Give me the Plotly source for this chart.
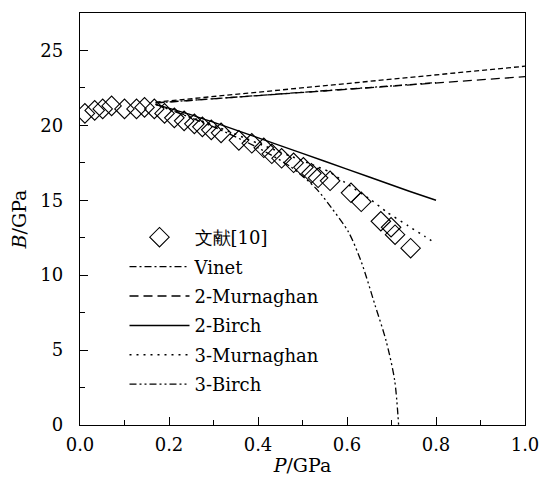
import plotly.graph_objects as go

# Experimental data (文献[10])
exp_p = [0.011, 0.033, 0.051, 0.071, 0.100, 0.127, 0.145, 0.167, 0.190, 0.212,
         0.234, 0.257, 0.275, 0.295, 0.317, 0.357, 0.386, 0.413, 0.431, 0.453,
         0.480, 0.502, 0.520, 0.535, 0.562, 0.609, 0.632, 0.676, 0.699, 0.708, 0.743]
exp_b = [20.8, 21.0, 21.1, 21.3, 21.1, 21.1, 21.2, 21.1, 20.8, 20.5,
         20.3, 20.1, 19.9, 19.7, 19.5, 19.0, 18.8, 18.5, 18.1, 17.8,
         17.5, 17.2, 16.8, 16.5, 16.3, 15.5, 14.9, 13.6, 13.2, 12.7, 11.8]

vinet_p = [0.17, 0.80]
vinet_b = [21.5, 22.85]

murn2_p = [0.17, 1.00]
murn2_b = [21.5, 23.25]

extra_p = [0.17, 1.00]
extra_b = [21.55, 23.95]

birch2_p = [0.17, 0.25, 0.335, 0.45, 0.55, 0.65, 0.74, 0.80]
birch2_b = [21.4, 20.7, 19.85, 18.65, 17.6, 16.55, 15.6, 15.0]

murn3_p = [0.17, 0.30, 0.40, 0.52, 0.56, 0.595, 0.655, 0.69, 0.737, 0.774, 0.80]
murn3_b = [21.4, 20.0, 18.8, 17.4, 16.9, 16.2, 15.0, 14.2, 13.3, 12.6, 12.1]

birch3_p = [0.17, 0.30, 0.40, 0.475, 0.53, 0.565, 0.603, 0.632, 0.663, 0.688, 0.707, 0.716]
birch3_b = [21.4, 19.9, 18.5, 17.2, 15.8, 14.5, 12.9, 10.9, 8.0, 5.6, 3.0, 0.0]

x_ticks = [0.0, 0.2, 0.4, 0.6, 0.8, 1.0]
x_ticklabels = ["0.0", "0.2", "0.4", "0.6", "0.8", "1.0"]
y_ticks = [0, 5, 10, 15, 20, 25]

FONT = "DejaVu Serif"

fig = go.Figure()

fig.add_trace(go.Scatter(x=exp_p, y=exp_b, mode="markers", name="文献[10]",
                         legendgroup="a",
                         marker=dict(symbol="diamond-open", size=15, color="black",
                                     line=dict(width=1.1, color="black"))))
fig.add_trace(go.Scatter(x=vinet_p, y=vinet_b, mode="lines", name="Vinet", legendgroup="b",
                         line=dict(color="black", width=1.3, dash="7px,3px,2px,3px")))
fig.add_trace(go.Scatter(x=murn2_p, y=murn2_b, mode="lines", name="2-Murnaghan", legendgroup="c",
                         line=dict(color="black", width=1.3, dash="9px,5px")))
fig.add_trace(go.Scatter(x=birch2_p, y=birch2_b, mode="lines", name="2-Birch", legendgroup="d",
                         line=dict(color="black", width=1.5, shape="spline", smoothing=0.6)))
fig.add_trace(go.Scatter(x=murn3_p, y=murn3_b, mode="lines", name="3-Murnaghan", legendgroup="e",
                         line=dict(color="black", width=1.5, dash="2px,5px",
                                   shape="spline", smoothing=0.6)))
fig.add_trace(go.Scatter(x=birch3_p, y=birch3_b, mode="lines", name="3-Birch", legendgroup="f",
                         line=dict(color="black", width=1.3, dash="7px,3px,2px,3px,2px,3px",
                                   shape="spline", smoothing=0.8)))
fig.add_trace(go.Scatter(x=extra_p, y=extra_b, mode="lines", name="", showlegend=False,
                         line=dict(color="black", width=1.3, dash="5px,3px")))

axis_common = dict(showline=True, linecolor="black", linewidth=1.3, mirror=True,
                   ticks="inside", ticklen=8, tickwidth=1.3, tickcolor="black",
                   showgrid=False, zeroline=False, automargin=False,
                   ticklabeloverflow="allow",
                   tickfont=dict(family=FONT, size=18, color="black"))

fig.update_xaxes(range=[0, 1.0], tickvals=x_ticks, ticktext=x_ticklabels,
                 minor=dict(dtick=0.1, ticks="inside", ticklen=5, tickwidth=1.3, tickcolor="black"),
                 ticklabelstandoff=3,
                 title=dict(text="<i>P</i>/GPa", font=dict(family=FONT, size=19, color="black"),
                            standoff=4),
                 **axis_common)
fig.update_yaxes(range=[0, 27.5], tickvals=y_ticks,
                 minor=dict(dtick=2.5, ticks="inside", ticklen=5, tickwidth=1.3, tickcolor="black"),
                 ticklabelstandoff=12,
                 title=dict(text="<i>B</i>/GPa", font=dict(family=FONT, size=19, color="black"),
                            standoff=8),
                 **axis_common)

fig.update_layout(
    width=540, height=483,
    margin=dict(l=80, r=15, t=13, b=58),
    paper_bgcolor="white", plot_bgcolor="white",
    showlegend=True,
    legend=dict(x=0.1, y=0.5, xanchor="left", yanchor="top",
                bgcolor="rgba(0,0,0,0)", borderwidth=0,
                font=dict(family=FONT, size=18, color="black"),
                tracegroupgap=3, itemwidth=60),
)

fig.write_html("out.html")
